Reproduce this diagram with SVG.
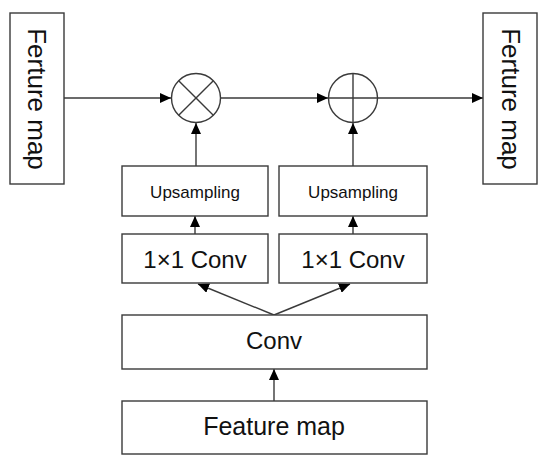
<svg xmlns="http://www.w3.org/2000/svg" width="550" height="470" viewBox="0 0 550 470">
<style>
.box{fill:#fff;stroke:#3a3a3a;stroke-width:1.4}
.ln{fill:none;stroke:#3a3a3a;stroke-width:1.4}
.t{font-family:"Liberation Sans",Arial,sans-serif;fill:#111;text-anchor:middle}
</style>
<defs>
<marker id="ah" markerUnits="userSpaceOnUse" markerWidth="12" markerHeight="10" refX="11" refY="5" orient="auto">
<path d="M0,0 L11,5 L0,10 Z" fill="#000"/>
</marker>
</defs>
<rect width="550" height="470" fill="#fff"/>
<g id="connectors">
<line class="ln" x1="64" y1="98" x2="171" y2="98" marker-end="url(#ah)"/>
<line class="ln" x1="220" y1="98" x2="328" y2="98" marker-end="url(#ah)"/>
<line class="ln" x1="378" y1="98" x2="483" y2="98" marker-end="url(#ah)"/>
<line class="ln" x1="196" y1="166" x2="196" y2="123" marker-end="url(#ah)"/>
<line class="ln" x1="353" y1="166" x2="353" y2="123" marker-end="url(#ah)"/>
<line class="ln" x1="195" y1="234" x2="195" y2="216" marker-end="url(#ah)"/>
<line class="ln" x1="353" y1="234" x2="353" y2="216" marker-end="url(#ah)"/>
<line class="ln" x1="274" y1="315" x2="198" y2="284" marker-end="url(#ah)"/>
<line class="ln" x1="274" y1="315" x2="350" y2="284" marker-end="url(#ah)"/>
<line class="ln" x1="274" y1="401" x2="274" y2="369" marker-end="url(#ah)"/>
</g>
<g id="ferture-left">
<rect class="box" x="10" y="13" width="54" height="171"/>
<text class="t" font-size="26" transform="translate(28,99) rotate(90)">Ferture map</text>
</g>
<g id="ferture-right">
<rect class="box" x="483" y="13" width="54" height="171"/>
<text class="t" font-size="26" transform="translate(502,99) rotate(90)">Ferture map</text>
</g>
<g id="multiply">
<circle class="box" cx="196" cy="98" r="24.5"/>
<line class="ln" x1="178.7" y1="80.7" x2="213.3" y2="115.3"/>
<line class="ln" x1="213.3" y1="80.7" x2="178.7" y2="115.3"/>
</g>
<g id="add">
<circle class="box" cx="353" cy="98" r="24.5"/>
<line class="ln" x1="328.5" y1="98" x2="377.5" y2="98"/>
<line class="ln" x1="353" y1="73.5" x2="353" y2="122.5"/>
</g>
<g id="upsampling-1">
<rect class="box" x="122" y="166" width="146" height="50"/>
<text class="t" font-size="17" x="195" y="198">Upsampling</text>
</g>
<g id="upsampling-2">
<rect class="box" x="279" y="166" width="148" height="50"/>
<text class="t" font-size="17" x="353" y="198">Upsampling</text>
</g>
<g id="conv1x1-1">
<rect class="box" x="122" y="234" width="146" height="49"/>
<text class="t" font-size="24" x="195" y="268">1×1 Conv</text>
</g>
<g id="conv1x1-2">
<rect class="box" x="279" y="234" width="148" height="49"/>
<text class="t" font-size="24" x="353" y="268">1×1 Conv</text>
</g>
<g id="conv">
<rect class="box" x="122" y="315" width="305" height="54"/>
<text class="t" font-size="24" x="274" y="349">Conv</text>
</g>
<g id="feature-map">
<rect class="box" x="122" y="401" width="305" height="53"/>
<text class="t" font-size="25" x="274" y="435">Feature map</text>
</g>
</svg>
